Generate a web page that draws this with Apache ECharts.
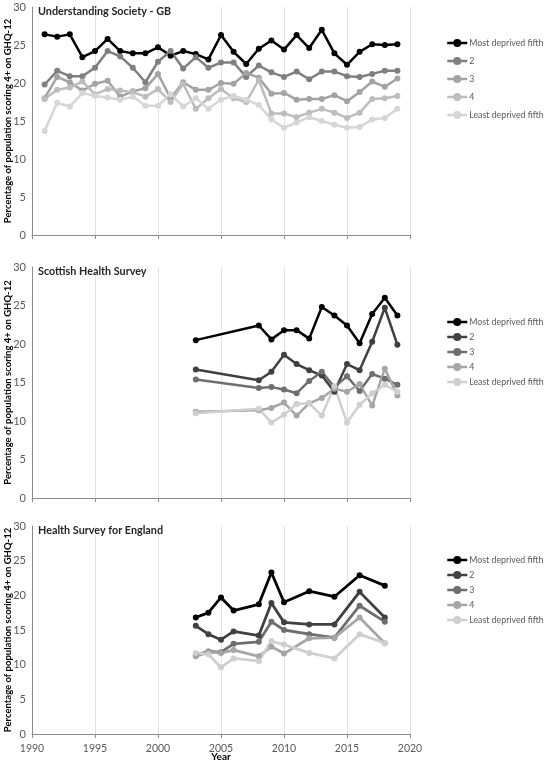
<!DOCTYPE html>
<html>
<head>
<meta charset="utf-8">
<script src="https://cdn.jsdelivr.net/npm/echarts@6/dist/echarts.min.js"></script>
<style>
html,body{margin:0;padding:0;background:#fff;}
#chart{width:549px;height:762px;}
</style>
</head>
<body>
<div id="chart"></div>
<script>
// ---------- data ----------
const panelTitles = ['Understanding Society - GB', 'Scottish Health Survey', 'Health Survey for England'];
const seriesNames = ['Most deprived fifth', '2', '3', '4', 'Least deprived fifth'];
const xTicks = [1990, 1995, 2000, 2005, 2010, 2015, 2020];
const yTicks = [0, 5, 10, 15, 20, 25, 30];

// Understanding Society - GB
const usYears = [1991,1992,1993,1994,1995,1996,1997,1998,1999,2000,2001,2002,2003,2004,2005,2006,2007,2008,2009,2010,2011,2012,2013,2014,2015,2016,2017,2018,2019];
const usMost  = [26.4,26.1,26.4,23.4,24.2,25.8,24.2,23.9,23.9,24.7,23.6,24.2,23.8,23.1,26.3,24.1,22.5,24.5,25.6,24.4,26.3,24.6,27.0,23.9,22.4,24.1,25.1,25.0,25.1];
const usQ2    = [19.8,21.6,20.9,20.9,22.0,24.2,23.5,22.0,20.1,22.8,24.2,21.9,23.4,22.0,22.7,22.7,20.8,22.3,21.4,20.8,21.5,20.5,21.5,21.5,20.9,20.8,21.2,21.6,21.6];
const usQ3    = [18.0,20.8,20.1,19.0,19.9,20.3,18.2,18.9,19.3,21.2,18.0,20.1,19.1,19.1,20.0,19.9,21.3,20.7,18.6,18.7,17.8,17.9,17.9,18.4,17.6,18.8,20.2,19.5,20.6];
const usQ4    = [17.9,19.1,19.4,20.2,18.5,19.2,19.0,18.8,18.2,19.2,17.5,19.9,16.6,18.0,19.2,18.0,17.5,20.4,16.0,16.0,15.5,16.1,16.6,16.1,15.4,16.1,17.9,18.0,18.3];
const usLeast = [13.7,17.4,16.9,18.7,18.3,18.1,17.8,18.2,17.0,17.0,18.5,16.9,18.0,16.6,17.8,18.3,17.8,17.1,15.2,14.1,14.8,15.5,15.0,14.5,14.1,14.2,15.2,15.4,16.6];

// Scottish Health Survey
const shsYears = [2003,2008,2009,2010,2011,2012,2013,2014,2015,2016,2017,2018,2019];
const shsMost  = [20.5,22.4,20.6,21.8,21.8,20.7,24.8,23.7,22.4,20.1,23.9,26.0,23.7];
const shsQ2    = [16.7,15.3,16.4,18.6,17.4,16.6,15.9,13.8,17.4,16.6,20.3,24.7,19.9];
const shsQ3    = [15.4,14.3,14.4,14.1,13.6,15.2,16.4,14.4,15.8,13.9,16.1,15.5,14.7];
const shsQ4    = [11.2,11.4,11.7,12.4,10.7,12.3,13.0,14.2,13.8,14.8,12.0,16.8,13.3];
const shsLeast = [11.0,11.6,9.8,10.8,12.2,12.3,10.7,14.5,9.8,12.1,13.6,14.7,13.8];

// Health Survey for England
const hseYears = [2003,2004,2005,2006,2008,2009,2010,2012,2014,2016,2018];
const hseMost  = [16.8,17.5,19.7,17.8,18.7,23.3,19.0,20.6,19.8,22.9,21.4];
const hseQ2    = [15.6,14.4,13.6,14.8,14.2,18.9,16.1,15.8,15.8,20.5,16.8];
const hseQ3    = [11.4,11.9,11.8,13.0,13.3,16.2,15.0,14.4,13.9,18.5,16.2];
const hseQ4    = [11.2,11.8,11.7,12.1,11.2,12.6,11.6,13.8,13.9,16.8,13.1];
const hseLeast = [11.7,11.5,9.6,10.9,10.5,13.4,12.9,11.7,10.9,14.4,13.1];

// ---------- styling ----------
const FONT = 'Lato';
const colorsTop = ['#000000', '#7f7f7f', '#a3a3a3', '#bdbdbd', '#d6d6d6'];
const colorsLow = ['#000000', '#404040', '#6e6e6e', '#a6a6a6', '#cfcfcf'];

const panels = [
  {years: usYears, values: [usMost, usQ2, usQ3, usQ4, usLeast], colors: colorsTop, top: 7, height: 228, lw: 2.5, sym: 6, legendTop: 38, legendGap: 8},
  {years: shsYears, values: [shsMost, shsQ2, shsQ3, shsQ4, shsLeast], colors: colorsLow, top: 267, height: 231, lw: 2.5, sym: 6, legendTop: 317, legendGap: 5},
  {years: hseYears, values: [hseMost, hseQ2, hseQ3, hseQ4, hseLeast], colors: colorsLow, top: 526, height: 208, lw: 2.8, sym: 6, legendTop: 555, legendGap: 5}
];

const grid = [], xAxis = [], yAxis = [], series = [], legend = [], title = [];
panels.forEach((p, i) => {
  const last = i === panels.length - 1;
  grid.push({left: 32, right: 139, top: p.top, height: p.height, containLabel: false, outerBoundsMode: 'none'});
  xAxis.push({
    type: 'value', gridIndex: i, min: xTicks[0], max: xTicks[xTicks.length - 1], interval: 5,
    axisLine: {show: true, lineStyle: {color: '#8c8c8c', width: 1}},
    axisTick: {show: true, length: 4, lineStyle: {color: '#8c8c8c'}},
    splitLine: {show: true, lineStyle: {color: '#e3e3e3', width: 1}},
    axisLabel: {show: last, color: '#595959', fontFamily: FONT, fontSize: 10.5, margin: 9, formatter: v => String(v)},
    name: last ? 'Year' : '', nameLocation: 'middle', nameGap: 18, nameMoveOverlap: false,
    nameTextStyle: {fontFamily: FONT, fontWeight: 'bold', fontSize: 10, color: '#000', verticalAlign: 'top', lineHeight: 10}
  });
  yAxis.push({
    type: 'value', gridIndex: i, min: yTicks[0], max: yTicks[yTicks.length - 1], interval: 5,
    axisLine: {show: true, lineStyle: {color: '#8c8c8c', width: 1}},
    axisTick: {show: false},
    splitLine: {show: false},
    axisLabel: {color: '#595959', fontFamily: FONT, fontSize: 11, margin: 6},
    name: 'Percentage of population scoring 4+ on GHQ-12', nameLocation: 'middle', nameRotate: 90, nameGap: 19, nameMoveOverlap: false,
    nameTextStyle: {fontFamily: FONT, fontWeight: 'bold', fontSize: 9.5, color: '#000'}
  });
  const legendData = [];
  p.values.forEach((vals, k) => {
    const c = p.colors[k];
    series.push({
      type: 'line', name: seriesNames[k], xAxisIndex: i, yAxisIndex: i,
      data: p.years.map((y, j) => [y, vals[j]]),
      symbol: 'circle', symbolSize: p.sym, showSymbol: true,
      lineStyle: {color: c, width: p.lw}, itemStyle: {color: c},
      animation: false
    });
    legendData.push({name: seriesNames[k], itemStyle: {color: c}, lineStyle: {color: c, width: 2.5}});
  });
  legend.push({
    orient: 'vertical', left: 446, top: p.legendTop, itemGap: p.legendGap,
    itemWidth: 20, itemHeight: 10, selectedMode: false, padding: 0,
    textStyle: {fontFamily: FONT, fontSize: 8.8, color: '#595959', lineHeight: 10, padding: [0, 0, 0, -3]},
    data: legendData
  });
  title.push({
    text: panelTitles[i], left: 33, top: p.top - 6,
    textStyle: {fontFamily: FONT, fontWeight: 'bold', fontSize: 10.8, color: '#262626'}
  });
});

const chart = echarts.init(document.getElementById('chart'), null, {renderer: 'canvas'});
chart.setOption({animation: false, title, grid, xAxis, yAxis, series, legend});
</script>
</body>
</html>
